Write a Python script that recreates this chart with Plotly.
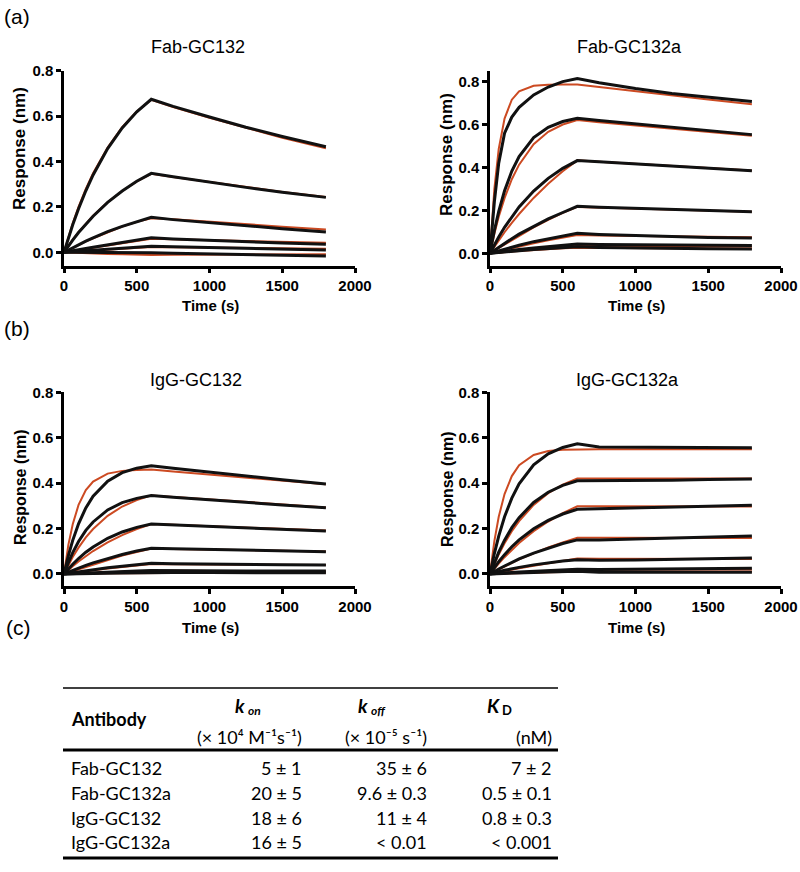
import plotly.graph_objects as go

# ---------------- data ----------------
TIME = [0, 15, 30, 60, 100, 150, 200, 300, 400, 500, 600, 750, 1000, 1250, 1500, 1800]

fab_gc132_data = [
    [0, 0.032, 0.063, 0.121, 0.192, 0.271, 0.341, 0.457, 0.548, 0.619, 0.674, 0.643, 0.596, 0.551, 0.510, 0.465],
    [0, 0.014, 0.028, 0.054, 0.087, 0.125, 0.159, 0.220, 0.270, 0.313, 0.348, 0.333, 0.308, 0.286, 0.265, 0.242],
    [0, 0.005, 0.011, 0.021, 0.034, 0.049, 0.064, 0.091, 0.114, 0.135, 0.154, 0.144, 0.130, 0.116, 0.104, 0.090],
    [0, 0.002, 0.0035, 0.007, 0.0115, 0.017, 0.0225, 0.033, 0.043, 0.0535, 0.064, 0.059, 0.052, 0.046, 0.041, 0.036],
    [0, 0.001, 0.0015, 0.003, 0.0047, 0.007, 0.009, 0.013, 0.018, 0.023, 0.027, 0.025, 0.021, 0.017, 0.014, 0.010],
    [0, 0, 0, -0.0005, -0.001, -0.0012, -0.0015, -0.002, -0.0025, -0.003, -0.002, -0.004, -0.007, -0.010, -0.013, -0.016],
]
fab_gc132_fit = [
    [0, 0.035, 0.068, 0.128, 0.200, 0.279, 0.348, 0.462, 0.551, 0.620, 0.672, 0.640, 0.593, 0.548, 0.505, 0.458],
    [0, 0.015, 0.029, 0.056, 0.089, 0.127, 0.161, 0.221, 0.270, 0.312, 0.346, 0.332, 0.309, 0.287, 0.266, 0.244],
    [0, 0.005, 0.010, 0.020, 0.033, 0.048, 0.062, 0.089, 0.113, 0.134, 0.150, 0.146, 0.134, 0.123, 0.113, 0.101],
    [0, 0.0015, 0.003, 0.006, 0.010, 0.015, 0.020, 0.030, 0.040, 0.050, 0.060, 0.057, 0.053, 0.049, 0.045, 0.042],
    [0, 0.0005, 0.001, 0.002, 0.0035, 0.005, 0.007, 0.011, 0.015, 0.019, 0.023, 0.022, 0.020, 0.018, 0.017, 0.016],
    [0, -0.0005, -0.001, -0.002, -0.003, -0.004, -0.005, -0.007, -0.009, -0.011, -0.012, -0.011, -0.010, -0.010, -0.009, -0.009],
]

fab_gc132a_data = [
    [0, 0.13, 0.24, 0.42, 0.56, 0.635, 0.68, 0.738, 0.775, 0.80, 0.815, 0.795, 0.768, 0.745, 0.727, 0.707],
    [0, 0.056, 0.106, 0.195, 0.291, 0.383, 0.451, 0.539, 0.587, 0.614, 0.629, 0.619, 0.603, 0.587, 0.571, 0.553],
    [0, 0.020, 0.039, 0.076, 0.121, 0.171, 0.216, 0.290, 0.349, 0.396, 0.432, 0.426, 0.416, 0.406, 0.396, 0.385],
    [0, 0.007, 0.015, 0.029, 0.047, 0.068, 0.089, 0.126, 0.160, 0.190, 0.219, 0.214, 0.209, 0.204, 0.199, 0.194],
    [0, 0.003, 0.006, 0.012, 0.019, 0.028, 0.037, 0.054, 0.068, 0.081, 0.093, 0.088, 0.083, 0.078, 0.074, 0.071],
    [0, 0.0015, 0.003, 0.006, 0.009, 0.013, 0.017, 0.024, 0.031, 0.037, 0.043, 0.041, 0.039, 0.038, 0.037, 0.036],
    [0, 0.001, 0.002, 0.004, 0.006, 0.009, 0.012, 0.017, 0.022, 0.026, 0.030, 0.027, 0.024, 0.022, 0.021, 0.020],
]
fab_gc132a_fit = [
    [0, 0.168, 0.300, 0.486, 0.628, 0.716, 0.755, 0.781, 0.786, 0.787, 0.787, 0.775, 0.755, 0.736, 0.717, 0.695],
    [0, 0.047, 0.091, 0.170, 0.257, 0.345, 0.413, 0.508, 0.566, 0.600, 0.621, 0.611, 0.596, 0.580, 0.565, 0.548],
    [0, 0.015, 0.031, 0.060, 0.098, 0.142, 0.183, 0.258, 0.324, 0.382, 0.433, 0.427, 0.417, 0.407, 0.397, 0.386],
    [0, 0.006, 0.013, 0.026, 0.043, 0.064, 0.084, 0.121, 0.156, 0.188, 0.216, 0.213, 0.208, 0.203, 0.198, 0.193],
    [0, 0.0025, 0.005, 0.010, 0.016, 0.024, 0.032, 0.047, 0.061, 0.074, 0.085, 0.083, 0.081, 0.079, 0.077, 0.075],
    [0, 0.001, 0.0025, 0.005, 0.008, 0.011, 0.015, 0.021, 0.027, 0.032, 0.036, 0.035, 0.034, 0.033, 0.033, 0.032],
    [0, 0.001, 0.002, 0.003, 0.005, 0.008, 0.010, 0.015, 0.019, 0.023, 0.026, 0.025, 0.024, 0.023, 0.022, 0.021],
]

igg_gc132_data = [
    [0, 0.042, 0.081, 0.148, 0.221, 0.291, 0.342, 0.409, 0.446, 0.466, 0.477, 0.466, 0.448, 0.431, 0.415, 0.396],
    [0, 0.026, 0.050, 0.094, 0.143, 0.192, 0.229, 0.282, 0.314, 0.333, 0.345, 0.338, 0.326, 0.315, 0.304, 0.292],
    [0, 0.012, 0.023, 0.043, 0.068, 0.096, 0.119, 0.157, 0.185, 0.205, 0.220, 0.216, 0.209, 0.202, 0.196, 0.189],
    [0, 0.004, 0.008, 0.016, 0.027, 0.038, 0.049, 0.069, 0.086, 0.101, 0.113, 0.111, 0.108, 0.104, 0.101, 0.098],
    [0, 0.0015, 0.003, 0.006, 0.010, 0.015, 0.019, 0.027, 0.034, 0.041, 0.047, 0.045, 0.043, 0.042, 0.041, 0.040],
    [0, 0.0005, 0.001, 0.002, 0.003, 0.005, 0.006, 0.009, 0.011, 0.013, 0.015, 0.014, 0.014, 0.013, 0.013, 0.013],
    [0, 0, 0.0005, 0.001, 0.001, 0.0015, 0.002, 0.003, 0.004, 0.005, 0.006, 0.006, 0.006, 0.005, 0.005, 0.005],
]
igg_gc132_fit = [
    [0, 0.069, 0.128, 0.219, 0.304, 0.369, 0.407, 0.442, 0.454, 0.458, 0.460, 0.451, 0.437, 0.424, 0.410, 0.395],
    [0, 0.020, 0.039, 0.075, 0.116, 0.161, 0.198, 0.256, 0.297, 0.325, 0.346, 0.339, 0.328, 0.316, 0.305, 0.293],
    [0, 0.009, 0.018, 0.034, 0.055, 0.079, 0.101, 0.139, 0.171, 0.198, 0.220, 0.217, 0.211, 0.204, 0.198, 0.191],
    [0, 0.003, 0.006, 0.013, 0.022, 0.033, 0.043, 0.063, 0.081, 0.097, 0.112, 0.110, 0.107, 0.104, 0.101, 0.099],
    [0, 0.001, 0.002, 0.005, 0.008, 0.012, 0.016, 0.024, 0.031, 0.038, 0.044, 0.043, 0.042, 0.041, 0.040, 0.039],
    [0, 0.0005, 0.001, 0.002, 0.003, 0.004, 0.005, 0.008, 0.010, 0.012, 0.014, 0.014, 0.013, 0.013, 0.013, 0.012],
    [0, 0, 0.0003, 0.0006, 0.001, 0.0014, 0.0018, 0.0026, 0.0034, 0.0042, 0.005, 0.005, 0.005, 0.005, 0.005, 0.005],
]

igg_gc132a_data = [
    [0, 0.047, 0.090, 0.167, 0.252, 0.334, 0.397, 0.481, 0.529, 0.557, 0.573, 0.559, 0.558, 0.557, 0.557, 0.556],
    [0, 0.026, 0.051, 0.096, 0.149, 0.204, 0.248, 0.315, 0.360, 0.390, 0.410, 0.410, 0.411, 0.413, 0.416, 0.418],
    [0, 0.014, 0.028, 0.054, 0.085, 0.120, 0.150, 0.199, 0.236, 0.264, 0.285, 0.287, 0.291, 0.295, 0.299, 0.303],
    [0, 0.006, 0.011, 0.022, 0.035, 0.051, 0.066, 0.092, 0.114, 0.134, 0.150, 0.150, 0.154, 0.158, 0.163, 0.167],
    [0, 0.003, 0.005, 0.010, 0.016, 0.023, 0.029, 0.040, 0.050, 0.057, 0.063, 0.060, 0.062, 0.065, 0.068, 0.070],
    [0, 0.001, 0.002, 0.003, 0.005, 0.007, 0.009, 0.012, 0.015, 0.018, 0.021, 0.020, 0.021, 0.022, 0.024, 0.025],
    [0, 0.0005, 0.001, 0.002, 0.003, 0.004, 0.005, 0.007, 0.009, 0.011, 0.012, 0.008, 0.008, 0.008, 0.008, 0.008],
]
igg_gc132a_fit = [
    [0, 0.078, 0.145, 0.252, 0.352, 0.431, 0.479, 0.524, 0.541, 0.547, 0.549, 0.549, 0.549, 0.549, 0.549, 0.549],
    [0, 0.023, 0.045, 0.086, 0.135, 0.188, 0.233, 0.304, 0.356, 0.393, 0.420, 0.420, 0.420, 0.420, 0.420, 0.420],
    [0, 0.012, 0.024, 0.046, 0.074, 0.107, 0.136, 0.188, 0.231, 0.268, 0.298, 0.298, 0.298, 0.297, 0.297, 0.297],
    [0, 0.005, 0.010, 0.021, 0.034, 0.049, 0.064, 0.091, 0.117, 0.139, 0.159, 0.159, 0.159, 0.158, 0.158, 0.158],
    [0, 0.002, 0.004, 0.008, 0.013, 0.019, 0.025, 0.036, 0.047, 0.058, 0.068, 0.067, 0.067, 0.066, 0.066, 0.066],
    [0, 0.001, 0.002, 0.003, 0.005, 0.007, 0.008, 0.011, 0.014, 0.017, 0.020, 0.020, 0.020, 0.020, 0.020, 0.020],
    [0, 0.0004, 0.0008, 0.0015, 0.0025, 0.0035, 0.0045, 0.006, 0.008, 0.009, 0.010, 0.010, 0.010, 0.010, 0.010, 0.010],
]

PANEL_TITLES = ["Fab-GC132", "Fab-GC132a", "IgG-GC132", "IgG-GC132a"]
X_TICKS = [0, 500, 1000, 1500, 2000]
Y_TICKS = [0.0, 0.2, 0.4, 0.6, 0.8]
X_TITLE = "Time (s)"
Y_TITLE = "Response (nm)"
PANEL_LABELS = ["(a)", "(b)", "(c)"]

TABLE_HEADER = "Antibody"
ANTIBODIES = ["Fab-GC132", "Fab-GC132a", "IgG-GC132", "IgG-GC132a"]
KON = ["5 ± 1", "20 ± 5", "18 ± 6", "16 ± 5"]
KOFF = ["35 ± 6", "9.6 ± 0.3", "11 ± 4", "< 0.01"]
KD = ["7 ± 2", "0.5 ± 0.1", "0.8 ± 0.3", "< 0.001"]
UNITS = ["(× 10⁴ M⁻¹s⁻¹)", "(× 10⁻⁵ s⁻¹)", "(nM)"]

# ---------------- figure ----------------
W, H = 800, 872
BLACK = "#111111"
RED = "#cc4a22"
ARIAL = "Liberation Sans, Arial, sans-serif"
TABLE_FONT = "Lato, Open Sans, sans-serif"


def px(x):
    return x / W


def py(y):
    return 1 - y / H


panels = [
    (fab_gc132_data, fab_gc132_fit),
    (fab_gc132a_data, fab_gc132a_fit),
    (igg_gc132_data, igg_gc132_fit),
    (igg_gc132a_data, igg_gc132a_fit),
]

fig = go.Figure()
for i, (data, fit) in enumerate(panels):
    xa = "x" if i == 0 else f"x{i + 1}"
    ya = "y" if i == 0 else f"y{i + 1}"
    for series in fit:
        fig.add_trace(go.Scatter(x=TIME, y=series, mode="lines", xaxis=xa, yaxis=ya,
                                 line=dict(color=RED, width=2), showlegend=False, hoverinfo="skip"))
    for series in data:
        fig.add_trace(go.Scatter(x=TIME, y=series, mode="lines", xaxis=xa, yaxis=ya,
                                 line=dict(color=BLACK, width=3), showlegend=False, hoverinfo="skip"))

x_domains = [[px(64), px(355)], [px(490), px(781)], [px(64), px(355)], [px(490), px(781)]]
y_domains = [[py(265.7), py(70.7)], [py(265.7), py(70.7)], [py(586), py(392.3)], [py(586), py(392.3)]]
y_ranges = [[-0.059, 0.8], [-0.058, 0.851], [-0.053, 0.8], [-0.053, 0.8]]

tickfont = dict(family=ARIAL, size=15, color="black", weight="bold")
layout = {}
for i in range(4):
    xk = "xaxis" if i == 0 else f"xaxis{i + 1}"
    yk = "yaxis" if i == 0 else f"yaxis{i + 1}"
    ya = "y" if i == 0 else f"y{i + 1}"
    xa = "x" if i == 0 else f"x{i + 1}"
    layout[xk] = dict(domain=x_domains[i], anchor=ya, range=[0, 2000], tickvals=X_TICKS,
                      showline=True, linecolor="black", linewidth=2.5, ticks="outside",
                      ticklen=5, tickwidth=2.5, tickcolor="black", showgrid=False,
                      zeroline=False, tickfont=tickfont, automargin=False)
    layout[yk] = dict(domain=y_domains[i], anchor=xa, range=y_ranges[i], tickvals=Y_TICKS,
                      tickformat=".1f", showline=True, linecolor="black", linewidth=2.5,
                      ticks="outside", ticklen=5, tickwidth=2.5, tickcolor="black",
                      showgrid=False, zeroline=False, tickfont=tickfont, automargin=False)
fig.update_layout(**layout)

ann = []


def text(x, y, s, size, xanchor="center", bold=False, italic=False, family=ARIAL, angle=0):
    ann.append(dict(x=px(x), y=py(y), xref="paper", yref="paper", text=s, showarrow=False,
                    xanchor=xanchor, yanchor="middle", textangle=angle,
                    font=dict(family=family, size=size, color="black",
                              weight="bold" if bold else "normal",
                              style="italic" if italic else "normal")))


# panel titles
title_pos = [(198, 47), (629, 47), (196, 380), (627, 380)]
for (x, y), t in zip(title_pos, PANEL_TITLES):
    text(x, y, t, 18)

# axis titles
for x, y in [(210, 305), (636, 305), (210, 627), (636, 627)]:
    text(x, y, X_TITLE, 15, bold=True)
for x, y, s in [(20, 149, 17), (447, 155, 17), (20, 487, 16), (447, 489, 16)]:
    text(x, y, Y_TITLE, s, bold=True, angle=-90)

# panel labels
for (x, y), lab in zip([(2, 16), (2, 329), (4, 627)], PANEL_LABELS):
    text(x, y, lab, 21, xanchor="left")

# table
TF = 18
text(69, 719, TABLE_HEADER, TF, xanchor="left", bold=True, family=TABLE_FONT)
text(233, 705, "k", TF + 1, xanchor="left", bold=True, italic=True, family=TABLE_FONT)
text(246, 710, "on", 12, xanchor="left", bold=True, italic=True, family=TABLE_FONT)
text(356, 705, "k", TF + 1, xanchor="left", bold=True, italic=True, family=TABLE_FONT)
text(369, 710, "off", 12, xanchor="left", bold=True, italic=True, family=TABLE_FONT)
text(485, 705, "K", TF + 1, xanchor="left", bold=True, italic=True, family=TABLE_FONT)
text(500, 710, "D", 13, xanchor="left", bold=True, family=TABLE_FONT)
for x, u in zip([304, 429, 554], UNITS):
    text(x, 737, u, TF, xanchor="right", family=TABLE_FONT)
row_y = [768, 793, 818, 842]
for y, name, a, b, c in zip(row_y, ANTIBODIES, KON, KOFF, KD):
    text(69, y, name, TF, xanchor="left", family=TABLE_FONT)
    text(304, y, a, TF, xanchor="right", family=TABLE_FONT)
    text(429, y, b, TF, xanchor="right", family=TABLE_FONT)
    text(554, y, c, TF, xanchor="right", family=TABLE_FONT)

shapes = []
for y, w in [(688, 1.5), (750, 3), (858, 3)]:
    shapes.append(dict(type="line", xref="paper", yref="paper", x0=px(63), x1=px(558),
                       y0=py(y), y1=py(y), line=dict(color="black", width=w)))

fig.update_layout(width=W, height=H, autosize=False, margin=dict(l=0, r=0, t=0, b=0),
                  paper_bgcolor="white", plot_bgcolor="white", showlegend=False,
                  annotations=ann, shapes=shapes, template="none")

fig.write_html("out.html", config={"displayModeBar": False},
               post_script="document.body.style.margin='0';document.body.style.overflow='hidden';")
